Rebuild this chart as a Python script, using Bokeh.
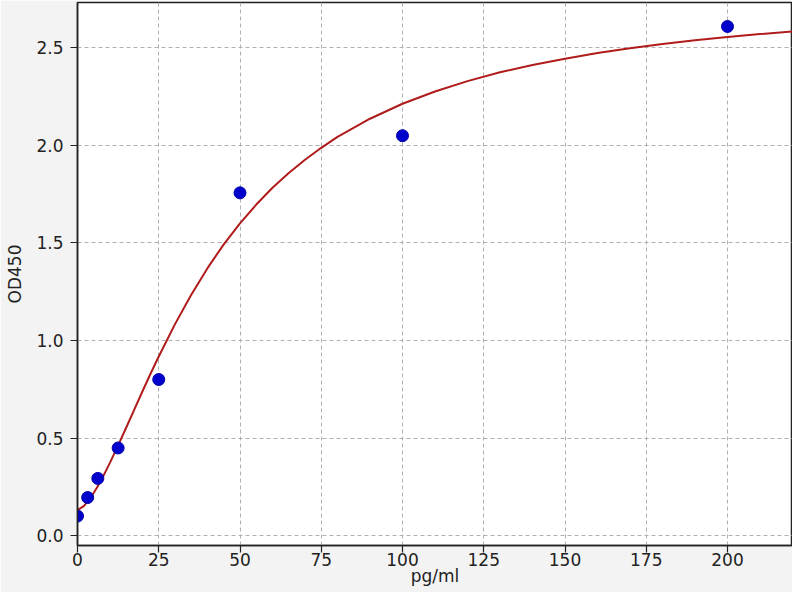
from bokeh.plotting import figure
from bokeh.models import Range1d, FixedTicker, CustomJSTickFormatter
from bokeh.embed import file_html
from bokeh.resources import INLINE

# standard points
conc = [0, 3.125, 6.25, 12.5, 25, 50, 100, 200]
od = [0.10, 0.195, 0.293, 0.449, 0.80, 1.757, 2.05, 2.61]

# fitted curve, values
curve_x = [0, 2, 4, 6, 8, 10, 12.5, 15, 17.5, 20, 22.5, 25, 30, 35, 40, 45, 50, 55, 60,
           65, 70, 75, 80, 90, 100, 110, 120, 130, 140, 150, 160, 170, 180, 190, 200, 210, 220]
curve_y = [0.130, 0.152, 0.193, 0.246, 0.307, 0.374, 0.462, 0.554, 0.647, 0.740, 0.831, 0.918,
           1.084, 1.235, 1.371, 1.493, 1.601, 1.697, 1.783, 1.859, 1.927, 1.988, 2.044, 2.137,
           2.214, 2.277, 2.330, 2.375, 2.413, 2.445, 2.474, 2.499, 2.520, 2.539, 2.556, 2.571, 2.585]

x_ticks = [0, 25, 50, 75, 100, 125, 150, 175, 200]
y_ticks = [0.0, 0.5, 1.0, 1.5, 2.0, 2.5]

p = figure(width=792, height=592, output_backend="svg", toolbar_location=None,
           x_range=Range1d(0, 220), y_range=Range1d(-0.051, 2.733),
           min_border_left=77, min_border_right=0, min_border_top=2, min_border_bottom=47)

p.border_fill_color = "#f3f3f3"
p.background_fill_color = "white"
p.outline_line_color = "#222222"
p.outline_line_width = 1.5

p.line(curve_x, curve_y, line_color="#b01c1c", line_width=2)
p.scatter(conc, od, size=12, fill_color="#0000cc", line_color="#0000aa")

for ax in (p.xaxis[0], p.yaxis[0]):
    ax.axis_line_color = "#222222"
    ax.axis_line_width = 1.5
    ax.major_tick_line_color = "#222222"
    ax.major_tick_line_width = 1.2
    ax.major_tick_in = 0
    ax.major_tick_out = 7
    ax.minor_tick_line_color = None
    ax.major_label_text_font = "DejaVu Sans"
    ax.major_label_text_font_size = "17px"
    ax.major_label_text_color = "#222222"
    ax.axis_label_text_font = "DejaVu Sans"
    ax.axis_label_text_font_size = "17px"
    ax.axis_label_text_font_style = "normal"
    ax.axis_label_text_color = "#222222"

p.xaxis.ticker = FixedTicker(ticks=x_ticks)
p.yaxis.ticker = FixedTicker(ticks=y_ticks)
p.yaxis.formatter = CustomJSTickFormatter(code="return tick.toFixed(1);")
p.xaxis.axis_label = "pg/ml"
p.yaxis.axis_label = "OD450"
p.xaxis.major_label_standoff = 0
p.yaxis.major_label_standoff = 7
p.xaxis.axis_label_standoff = -3
p.yaxis.axis_label_standoff = 8

p.grid.grid_line_color = "#b0b0b0"
p.grid.grid_line_dash = "4 3"
p.grid.grid_line_width = 1

open("out.html", "w").write(file_html(p, INLINE))
